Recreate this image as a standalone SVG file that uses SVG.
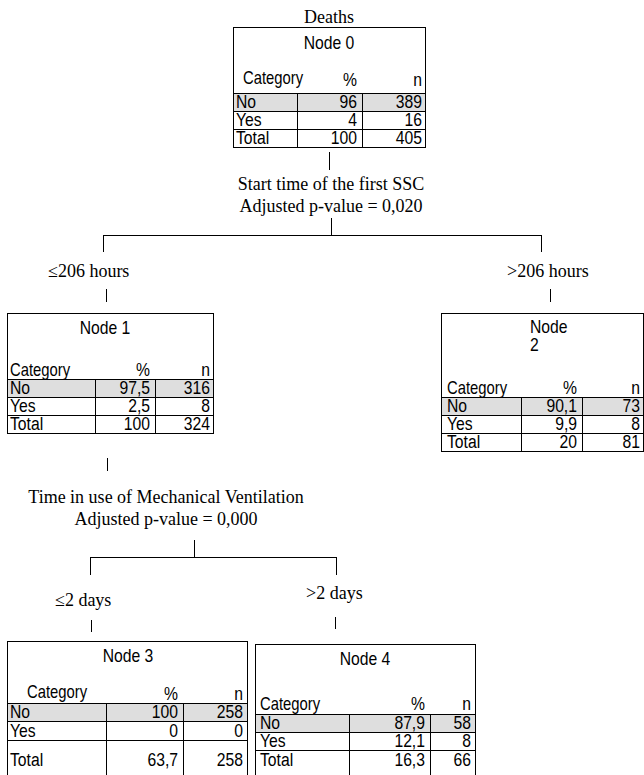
<svg xmlns="http://www.w3.org/2000/svg" width="644" height="775" viewBox="0 0 644 775">
<style>
.s{font-family:"Liberation Serif","Times New Roman",serif;font-size:18px;fill:#000}
.t{font-family:"Liberation Sans",Arial,sans-serif;font-size:18.5px;fill:#000;transform-box:fill-box;transform:scaleX(.85);transform-origin:0 0}
.e{text-anchor:end}
.m{text-anchor:middle}
.t.e{transform-origin:100% 0}
.t.m{transform-origin:50% 0}
.t.c{transform:scaleX(.8)}
.box{fill:#fff;stroke:#000;stroke-width:1}
.hl{fill:#dedede;stroke:none}
.ln{stroke:#000;stroke-width:1;fill:none}
</style>
<rect width="644" height="775" fill="#fff"/>

<g id="node0">
<text class="s m" x="329" y="23">Deaths</text>
<rect class="box" x="233.5" y="27.5" width="192" height="120"/>
<rect class="hl" x="234" y="94" width="191" height="18"/>
<path class="ln" d="M233.5 93.5H425.5M233.5 111.5H425.5M233.5 129.5H425.5M297.5 93.5V147.5M362.5 93.5V147.5"/>
<text class="t m" x="329" y="49">Node 0</text>
<text class="t c" x="243" y="84">Category</text>
<text class="t e" x="357" y="86">%</text>
<text class="t e" x="422" y="86">n</text>
<text class="t" x="236" y="108.5">No</text>
<text class="t e" x="357" y="108.5">96</text>
<text class="t e" x="422" y="108.5">389</text>
<text class="t" x="236" y="126.5">Yes</text>
<text class="t e" x="357" y="126.5">4</text>
<text class="t e" x="422" y="126.5">16</text>
<text class="t" x="236" y="144.5">Total</text>
<text class="t e" x="357" y="144.5">100</text>
<text class="t e" x="422" y="144.5">405</text>
</g>

<g id="node1">
<rect class="box" x="7.5" y="313.5" width="206" height="120"/>
<rect class="hl" x="8" y="380" width="205" height="18"/>
<path class="ln" d="M7.5 379.5H213.5M7.5 397.5H213.5M7.5 415.5H213.5M95.5 379.5V433.5M155.5 379.5V433.5"/>
<text class="t m" x="105" y="334">Node 1</text>
<text class="t c" x="10" y="376">Category</text>
<text class="t e" x="150" y="376">%</text>
<text class="t e" x="210" y="376">n</text>
<text class="t" x="10" y="394.5">No</text>
<text class="t e" x="150" y="394.5">97,5</text>
<text class="t e" x="210" y="394.5">316</text>
<text class="t" x="10" y="412.5">Yes</text>
<text class="t e" x="150" y="412.5">2,5</text>
<text class="t e" x="210" y="412.5">8</text>
<text class="t" x="10" y="430.5">Total</text>
<text class="t e" x="150" y="430.5">100</text>
<text class="t e" x="210" y="430.5">324</text>
</g>

<g id="node2">
<rect class="box" x="441.5" y="313.5" width="202" height="138"/>
<rect class="hl" x="442" y="398" width="201" height="18"/>
<path class="ln" d="M441.5 397.5H643.5M441.5 415.5H643.5M441.5 433.5H643.5M521.5 397.5V451.5M582.5 397.5V451.5"/>
<text class="t" x="530" y="333">Node</text>
<text class="t" x="530" y="351">2</text>
<text class="t c" x="447" y="394">Category</text>
<text class="t e" x="577" y="394">%</text>
<text class="t e" x="640" y="394">n</text>
<text class="t" x="447" y="412.5">No</text>
<text class="t e" x="577" y="412.5">90,1</text>
<text class="t e" x="640" y="412.5">73</text>
<text class="t" x="447" y="430.5">Yes</text>
<text class="t e" x="577" y="430.5">9,9</text>
<text class="t e" x="640" y="430.5">8</text>
<text class="t" x="447" y="448.5">Total</text>
<text class="t e" x="577" y="448.5">20</text>
<text class="t e" x="640" y="448.5">81</text>
</g>

<g id="node3">
<rect class="box" x="7.5" y="641.5" width="240" height="140"/>
<rect class="hl" x="8" y="704" width="239" height="18"/>
<path class="ln" d="M7.5 703.5H247.5M7.5 721.5H247.5M7.5 740.5H247.5M106.5 703.5V776M183.5 703.5V776"/>
<text class="t m" x="128" y="662">Node 3</text>
<text class="t c" x="27" y="698">Category</text>
<text class="t e" x="178" y="700">%</text>
<text class="t e" x="243" y="700">n</text>
<text class="t" x="10" y="718.5">No</text>
<text class="t e" x="178" y="718.5">100</text>
<text class="t e" x="243" y="718.5">258</text>
<text class="t" x="10" y="737">Yes</text>
<text class="t e" x="178" y="737">0</text>
<text class="t e" x="243" y="737">0</text>
<text class="t" x="10" y="766">Total</text>
<text class="t e" x="178" y="766">63,7</text>
<text class="t e" x="243" y="766">258</text>
</g>

<g id="node4">
<rect class="box" x="255.5" y="644.5" width="220" height="140"/>
<rect class="hl" x="256" y="715" width="219" height="18"/>
<path class="ln" d="M255.5 714.5H475.5M255.5 732.5H475.5M255.5 750.5H475.5M349.5 714.5V776M430.5 714.5V776"/>
<text class="t m" x="365" y="665">Node 4</text>
<text class="t c" x="260" y="710">Category</text>
<text class="t e" x="425" y="710">%</text>
<text class="t e" x="471" y="710">n</text>
<text class="t" x="260" y="729.5">No</text>
<text class="t e" x="425" y="729.5">87,9</text>
<text class="t e" x="471" y="729.5">58</text>
<text class="t" x="260" y="747.5">Yes</text>
<text class="t e" x="425" y="747.5">12,1</text>
<text class="t e" x="471" y="747.5">8</text>
<text class="t" x="260" y="766">Total</text>
<text class="t e" x="425" y="766">16,3</text>
<text class="t e" x="471" y="766">66</text>
</g>

<g id="connectors">
<path class="ln" d="M329.5 152V170M331.5 218V235.5M103.5 235.5H541.5M103.5 235V252M541.5 235V252M106.5 289V302M550.5 289V302M107.5 458V471M194.5 540V557.5M90.5 557.5H336.5M90.5 557V575M336.5 557V575M91.5 620V632M335.5 617V629"/>
<text class="s m" x="331" y="190">Start time of the first SSC</text>
<text class="s m" x="331" y="212">Adjusted p-value = 0,020</text>
<text class="s" x="48" y="277">≤206 hours</text>
<text class="s" x="507" y="277">&gt;206 hours</text>
<text class="s m" x="166" y="503">Time in use of Mechanical Ventilation</text>
<text class="s m" x="166" y="525">Adjusted p-value = 0,000</text>
<text class="s" x="55" y="606">≤2 days</text>
<text class="s" x="306" y="599">&gt;2 days</text>
</g>
</svg>
